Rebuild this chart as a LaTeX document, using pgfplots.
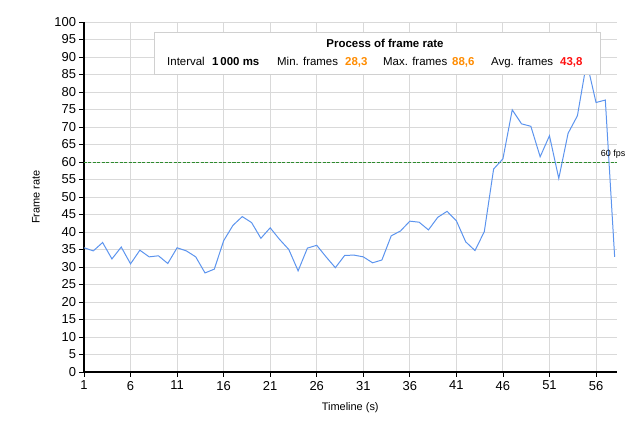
\documentclass[border=0pt]{standalone}
\usepackage{pgfplots}
\pgfplotsset{compat=1.18}
\usepackage{fontspec}
\setmainfont{Liberation Sans}
\definecolor{lineblue}{HTML}{5C94EE}
\definecolor{gridgray}{HTML}{D9D9D9}
\definecolor{fpsgreen}{HTML}{2E8B2E}
\definecolor{valorange}{HTML}{FF8C00}
\definecolor{valred}{HTML}{FF1010}
\definecolor{boxgray}{HTML}{D0D0D0}
\begin{document}
\begin{tikzpicture}
\useasboundingbox (-84bp,-60bp) rectangle (551bp,372bp);
\begin{axis}[
  at={(0,0)}, anchor=south west,
  scale only axis,
  width=532.5bp, height=350bp,
  xmin=1, xmax=58.2, ymin=0, ymax=100,
  xtick={1,6,...,56}, ytick={0,5,...,100},
  axis x line*=bottom, axis y line*=left,
  axis line style={black, line width=1.2pt, -},
  tick align=outside,
  major tick length=4.5bp,
  tick style={black, line width=0.8pt},
  grid=major,
  major grid style={gridgray, line width=0.9pt},
  /pgf/number format/assume math mode=true,
  ticklabel style={font=\fontsize{13}{15}\selectfont, text=black},
  xticklabel style={yshift=-1bp},
  label style={font=\fontsize{11}{13}\selectfont},
  xlabel={Timeline (s)}, ylabel={Frame rate},
  xlabel style={at={(axis description cs:0.5,-0.103)}, anchor=center},
  ylabel style={at={(axis description cs:-0.0902,0.5)}, anchor=center, rotate=0},
  clip=false,
]
\addplot[fpsgreen, dash pattern=on 3bp off 1.5bp, line width=0.9pt, forget plot] coordinates {(1,60) (58.2,60)};
\addplot[lineblue, line width=1pt, mark=none] coordinates {
(1,35.5) (2,34.6) (3,37.0) (4,32.3) (5,35.7) (6,30.9) (7,34.8) (8,32.9) (9,33.2) (10,31.0)
(11,35.5) (12,34.6) (13,32.9) (14,28.3) (15,29.4) (16,37.5) (17,41.9) (18,44.4) (19,42.7) (20,38.2)
(21,41.2) (22,37.9) (23,35.0) (24,28.9) (25,35.4) (26,36.2) (27,32.9) (28,29.8) (29,33.3) (30,33.4)
(31,32.9) (32,31.2) (33,32.0) (34,38.9) (35,40.3) (36,43.1) (37,42.8) (38,40.6) (39,44.2) (40,45.9)
(41,43.2) (42,37.2) (43,34.7) (44,40.1) (45,58.0) (46,60.9) (47,74.9) (48,70.9) (49,70.2) (50,61.5)
(51,67.5) (52,55.3) (53,68.2) (54,73.2) (55,88.6) (56,77.0) (57,77.7) (58,32.9)
};
\node[anchor=south west, inner sep=0pt, font=\fontsize{9}{10}\selectfont] at (axis cs:56.5,60.9) {60 fps};
\end{axis}
\draw[boxgray, line width=0.8pt, fill=white] (70bp,298bp) rectangle (516bp,340bp);
\node[anchor=base, inner sep=0pt, font=\fontsize{11.5}{13}\selectfont\bfseries] at (301bp,324bp) {Process of frame rate};
\begin{scope}[every node/.style={anchor=base west, inner sep=0pt, font=\fontsize{11.5}{13}\selectfont}]
\node at (83bp,306bp) {Interval};
\node[font=\fontsize{11.5}{13}\selectfont\bfseries] at (128bp,306bp) {1\,000 ms};
\node at (193bp,306bp) {Min. frames};
\node[font=\fontsize{11.5}{13}\selectfont\bfseries, text=valorange] at (261bp,306bp) {28,3};
\node at (299bp,306bp) {Max. frames};
\node[font=\fontsize{11.5}{13}\selectfont\bfseries, text=valorange] at (368bp,306bp) {88,6};
\node at (407bp,306bp) {Avg. frames};
\node[font=\fontsize{11.5}{13}\selectfont\bfseries, text=valred] at (476bp,306bp) {43,8};
\end{scope}
\end{tikzpicture}
\end{document}
